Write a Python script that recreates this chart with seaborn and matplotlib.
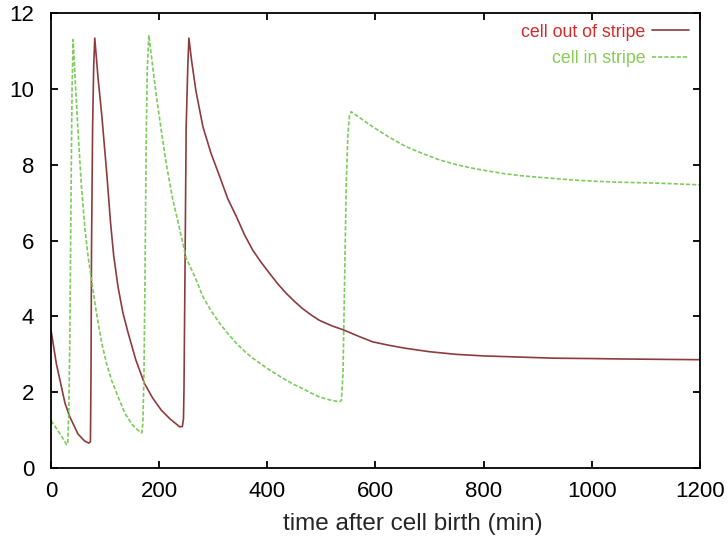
import numpy as np
import matplotlib
matplotlib.use("Agg")
import matplotlib.pyplot as plt
import pandas as pd
import seaborn as sns

# cell out of stripe
t_out = [0, 10, 26, 35, 50, 62, 70, 73, 74, 75, 77, 79, 81, 87, 94, 103, 110, 116, 124, 133,
         143, 157, 173, 188, 204, 220, 238, 243, 245, 246, 248, 250, 253, 255, 260, 268, 281,
         296, 312, 327, 343, 358, 373, 389, 404, 420, 435, 450, 465, 481, 496, 520, 542, 570,
         595, 625, 656, 700, 750, 800, 865, 930, 1000, 1050, 1120, 1200]
v_out = [3.65, 2.75, 1.71, 1.35, 0.9, 0.72, 0.66, 0.7, 2.4, 5.8, 9.0, 10.6, 11.34, 10.3, 9.3,
         7.8, 6.5, 5.6, 4.78, 4.1, 3.55, 2.85, 2.23, 1.85, 1.53, 1.3, 1.09, 1.1, 1.3, 2.1, 5.5,
         9.0, 10.6, 11.34, 10.75, 9.95, 9.0, 8.3, 7.69, 7.1, 6.63, 6.15, 5.75, 5.42, 5.14, 4.85,
         4.61, 4.4, 4.21, 4.04, 3.9, 3.75, 3.64, 3.47, 3.33, 3.24, 3.16, 3.07, 3.0, 2.96, 2.93,
         2.9, 2.89, 2.88, 2.87, 2.86]

# cell in stripe
t_in = [0, 10, 20, 29, 31, 33, 35, 37, 39, 41, 45, 50, 56, 63, 69, 75, 84, 94, 103, 112, 125,
        137, 150, 164, 168, 170, 172, 174, 176, 178, 181, 188, 195, 204, 213, 225, 238, 250,
        266, 281, 296, 312, 327, 343, 358, 373, 389, 404, 420, 435, 450, 465, 481, 496, 515,
        533, 537, 540, 543, 546, 549, 552, 555, 575, 595, 625, 656, 690, 718, 750, 779, 810,
        841, 870, 902, 964, 1000, 1050, 1111, 1150, 1200]
v_in = [1.25, 1.05, 0.83, 0.62, 0.64, 1.5, 3.5, 7.0, 10.0, 11.3, 10.2, 8.9, 7.5, 6.28, 5.55,
        4.96, 4.1, 3.29, 2.75, 2.32, 1.85, 1.44, 1.15, 0.96, 0.93, 1.2, 2.5, 5.2, 8.5, 10.5,
        11.42, 10.6, 9.8, 8.9, 8.04, 7.1, 6.3, 5.54, 5.05, 4.52, 4.15, 3.82, 3.55, 3.29, 3.08,
        2.9, 2.74, 2.59, 2.45, 2.32, 2.2, 2.1, 1.98, 1.88, 1.8, 1.75, 1.78, 2.5, 5.0, 7.5, 8.8,
        9.3, 9.4, 9.2, 9.0, 8.73, 8.48, 8.28, 8.13, 8.0, 7.91, 7.83, 7.76, 7.71, 7.67, 7.6,
        7.57, 7.54, 7.52, 7.5, 7.47]

sns.set_style("ticks")
plt.rcParams['font.family'] = ['Liberation Sans', 'DejaVu Sans']

fig = plt.figure(figsize=(7.28, 5.45), dpi=100)
ax = fig.add_axes([0.070, 0.141, 0.8915, 0.835])

red_line = "#8e3b3e"
green_line = "#7ccb5c"
sns.lineplot(x=t_out, y=v_out, ax=ax, color=red_line, linewidth=1.2,
             label="cell out of stripe", sort=False)
sns.lineplot(x=t_in, y=v_in, ax=ax, color=green_line, linewidth=1.2,
             label="cell in stripe", sort=False)
ax.lines[1].set_dashes([2.5, 1.2])

ax.set_xlim(0, 1200)
ax.set_ylim(0, 12)
ax.set_xticks(np.arange(0, 1201, 200))
ax.set_yticks(np.arange(0, 13, 2))
ax.tick_params(direction="in", top=True, right=True, length=5, width=1.3,
               labelsize=16, colors="black")
ax.tick_params(axis="y", pad=12)
ax.tick_params(axis="x", pad=9)
for s in ax.spines.values():
    s.set_linewidth(1.3)
    s.set_color("black")

ax.set_xlabel("time after cell birth (min)", fontsize=17.5)
ax.xaxis.set_label_coords(0.558, -0.098)
ax.set_ylabel("")

leg = ax.legend(loc="upper right", bbox_to_anchor=(0.983, 0.977), frameon=False,
                markerfirst=False, fontsize=12.8, handlelength=2.1, handletextpad=0.35,
                labelspacing=0.55, borderaxespad=0, borderpad=0,
                labelcolor=["#d42a2a", "#86cc55"])

fig.savefig("out.png", dpi=100)
